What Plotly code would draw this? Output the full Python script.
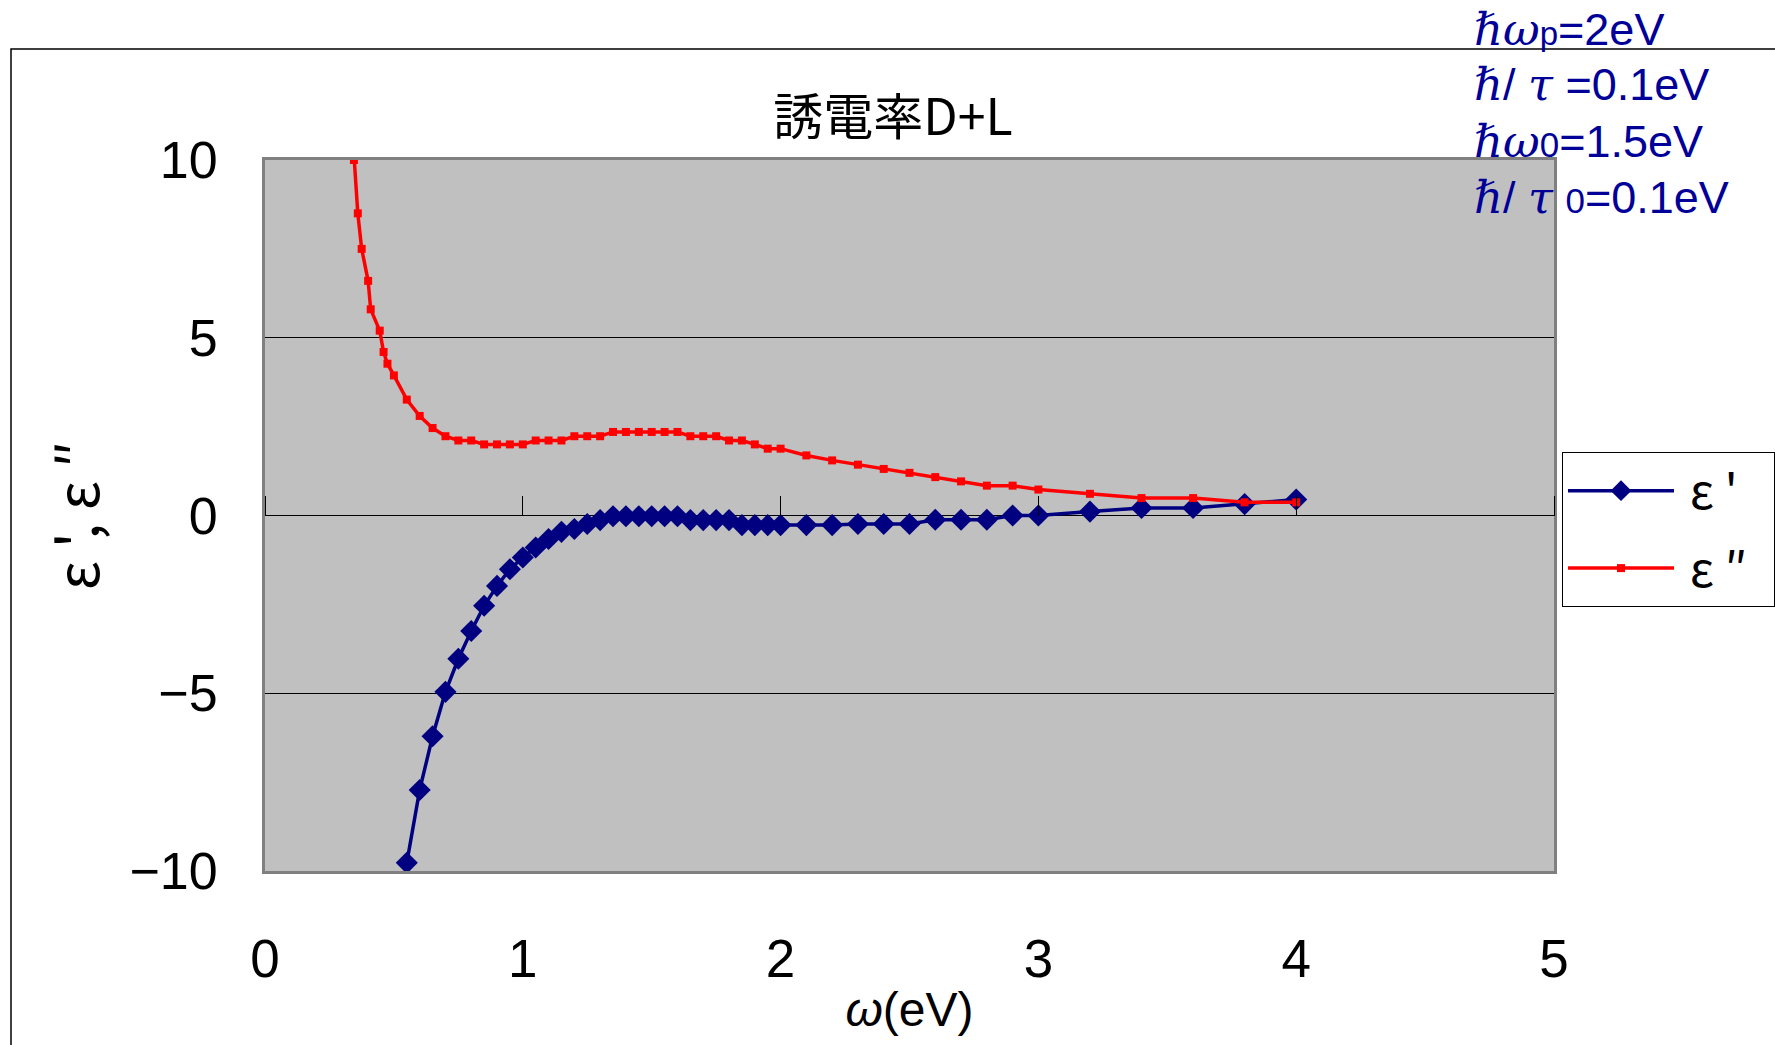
import plotly.graph_objects as go

# ---- data ----
omega_re = [0.50, 0.55, 0.60, 0.65, 0.70, 0.75, 0.80, 0.85, 0.90, 0.95, 1.00,
            1.05, 1.10, 1.15, 1.20, 1.25, 1.30, 1.35, 1.40, 1.45, 1.50,
            1.55, 1.60, 1.65, 1.70, 1.75, 1.80, 1.85, 1.90, 1.95, 2.00,
            2.1, 2.2, 2.3, 2.4, 2.5, 2.6, 2.7, 2.8, 2.9, 3.0,
            3.2, 3.4, 3.6, 3.8, 4.0]
eps_re = [-12.6, -9.77, -7.72, -6.21, -4.96, -4.03, -3.25, -2.54, -1.98, -1.51, -1.18,
          -0.90, -0.66, -0.46, -0.38, -0.24, -0.13, -0.02, -0.02, -0.02, -0.02,
          -0.02, -0.02, -0.13, -0.13, -0.13, -0.13, -0.27, -0.27, -0.27, -0.27,
          -0.27, -0.27, -0.24, -0.24, -0.24, -0.12, -0.12, -0.12, 0.0, 0.0,
          0.11, 0.21, 0.21, 0.32, 0.45]

omega_im = [0.33, 0.345, 0.36, 0.375, 0.40, 0.41, 0.445, 0.46, 0.475, 0.50,
            0.55, 0.60, 0.65, 0.70, 0.75, 0.80, 0.85, 0.90, 0.95, 1.00,
            1.05, 1.10, 1.15, 1.20, 1.25, 1.30, 1.35, 1.40, 1.45, 1.50,
            1.55, 1.60, 1.65, 1.70, 1.75, 1.80, 1.85, 1.90, 1.95, 2.00,
            2.1, 2.2, 2.3, 2.4, 2.5, 2.6, 2.7, 2.8, 2.9, 3.0,
            3.2, 3.4, 3.6, 3.8, 4.0]
eps_im = [11.8, 10.0, 8.5, 7.5, 6.6, 5.8, 5.2, 4.6, 4.27, 3.94,
          3.26, 2.80, 2.46, 2.23, 2.11, 2.11, 2.0, 2.0, 2.0, 2.0,
          2.11, 2.11, 2.11, 2.23, 2.23, 2.23, 2.35, 2.35, 2.35, 2.35,
          2.35, 2.35, 2.23, 2.23, 2.23, 2.11, 2.11, 2.0, 1.88, 1.88,
          1.69, 1.55, 1.43, 1.31, 1.20, 1.08, 0.96, 0.84, 0.84, 0.73,
          0.61, 0.49, 0.49, 0.37, 0.37]

x_ticks = [0, 1, 2, 3, 4, 5]
y_ticks = [-10, -5, 0, 5, 10]

title_text = "誘電率D+L"
x_title = "<i>ω</i>(eV)"
y_title = "ε ', ε ″"
name_re = " ε '\u00a0\u00a0"
name_im = " ε ″\u00a0\u00a0"
serif = "DejaVu Serif, serif"
sym_h = f"<span style='font-family:{serif}'><i>ℏ</i></span>"
sym_w = f"<span style='font-family:{serif}'><i>ω</i></span>"
sym_t = f"<span style='font-family:{serif}'><i>τ</i></span>"
param_lines = [
    f"{sym_h}{sym_w}<span style='font-size:33px'>p</span>=2eV",
    f"{sym_h}/ {sym_t} =0.1eV",
    f"{sym_h}{sym_w}<span style='font-size:35px'>0</span>=1.5eV",
    f"{sym_h}/ {sym_t} <span style='font-size:35px'>0</span>=0.1eV",
]

W, H = 1775, 1045
L, R, T, B = 265, 1554, 160, 871

fig = go.Figure()
fig.add_trace(go.Scatter(
    x=omega_re, y=eps_re, name=name_re, mode="lines+markers", legendgroup="a",
    line=dict(color="#000080", width=3.5),
    marker=dict(symbol="diamond", size=17, color="#000080"),
    cliponaxis=True))
fig.add_trace(go.Scatter(
    x=omega_im, y=eps_im, name=name_im, mode="lines+markers", legendgroup="b",
    line=dict(color="#FF0000", width=3.5),
    marker=dict(symbol="square", size=8, color="#FF0000"),
    cliponaxis=True))
# empty trace that carries the inner tick axis at y=0
fig.add_trace(go.Scatter(x=[], y=[], xaxis="x2", yaxis="y", showlegend=False,
                         hoverinfo="skip"))

sans = "Liberation Sans, Arial, sans-serif"
cjk = "Noto Sans CJK JP, sans-serif"

def py2paper(py):
    return (B - py) / (B - T)

def px2paper(px):
    return (px - L) / (R - L)

fig.update_layout(
    width=W, height=H,
    margin=dict(l=L, r=W - R, t=T, b=H - B, autoexpand=False),
    paper_bgcolor="white",
    plot_bgcolor="#C0C0C0",
    title=dict(text=title_text, x=px2paper(893), xref="paper", xanchor="center",
               y=1 - 117 / H, yref="container", yanchor="middle",
               font=dict(family=cjk, size=50, color="black")),
    xaxis=dict(range=[0, 5], tickvals=x_ticks, ticks="", showgrid=False,
               zeroline=False, showline=True, mirror=True, linecolor="#808080",
               linewidth=3, tickfont=dict(family=sans, size=53, color="black"),
               ticklabelstandoff=39,
               title=dict(text=x_title, font=dict(family=sans, size=48, color="black"),
                          standoff=6)),
    xaxis2=dict(range=[0, 5], overlaying="x", anchor="free", position=0.5,
                side="top", tickvals=x_ticks, ticks="outside", ticklen=20,
                tickwidth=1, tickcolor="black", showticklabels=False,
                showgrid=False, zeroline=False, showline=False),
    yaxis=dict(range=[-10, 10], tickvals=y_ticks, ticks="", showgrid=True,
               gridcolor="black", gridwidth=1, zeroline=True, zerolinecolor="black",
               zerolinewidth=1, showline=True, mirror=True, linecolor="#808080",
               linewidth=3, tickfont=dict(family=sans, size=52, color="black"),
               ticklabelstandoff=34,
               title=dict(text=y_title, font=dict(family=cjk, size=58, color="black"),
                          standoff=12)),
    legend=dict(x=px2paper(1562), y=py2paper(452), xanchor="left", yanchor="top",
                bgcolor="white", bordercolor="black", borderwidth=1,
                font=dict(family=cjk, size=48, color="black"), itemwidth=106,
                traceorder="grouped", tracegroupgap=12),
    showlegend=True,
)

# outer chart-area border
fig.add_shape(type="rect", xref="paper", yref="paper",
              x0=px2paper(11), x1=px2paper(1800), y0=py2paper(1100), y1=py2paper(49),
              line=dict(color="black", width=1.5), fillcolor="rgba(0,0,0,0)", layer="below")

line_y = [30, 85, 141, 197]
for txt, yy in zip(param_lines, line_y):
    fig.add_annotation(text=txt, xref="paper", yref="paper", x=px2paper(1472),
                       y=py2paper(yy), xanchor="left", yanchor="middle", showarrow=False,
                       font=dict(family=sans, size=45, color="#000099"))

fig.write_html("out.html")
